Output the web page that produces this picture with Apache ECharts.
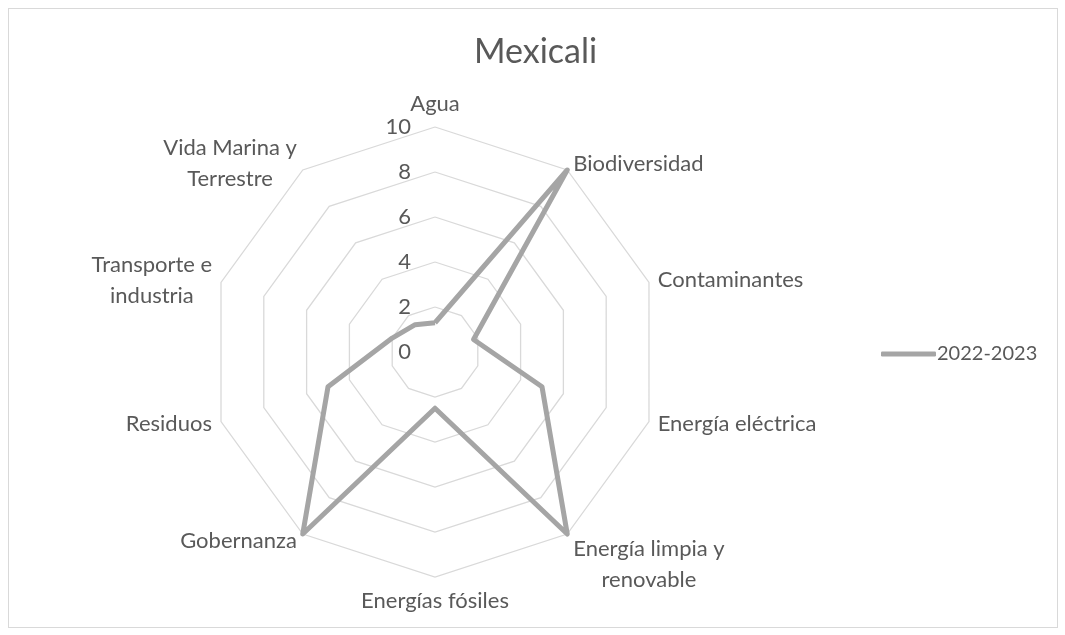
<!DOCTYPE html>
<html>
<head>
<meta charset="utf-8">
<script src="https://cdn.jsdelivr.net/npm/echarts@6/dist/echarts.min.js"></script>
<style>
  html, body { margin: 0; padding: 0; background: #fff; }
  #frame { position: absolute; left: 8px; top: 8px; width: 1048px; height: 618px; border: 1px solid #d9d9d9; }
  #main { width: 1065px; height: 635px; }
</style>
</head>
<body>
<div id="frame"></div>
<div id="main"></div>
<script>
var categories = [
  'Agua', 'Biodiversidad', 'Contaminantes', 'Energía eléctrica',
  'Energía limpia y\nrenovable', 'Energías fósiles', 'Gobernanza',
  'Residuos', 'Transporte e\nindustria', 'Vida Marina y\nTerrestre'
];
var values2022 = [1.3, 10, 1.8, 5, 10, 2.5, 10, 5, 2, 1.5];
var seriesName = '2022-2023';
var axisMax = 10;
var axisStep = 2;

// vertical nudge of each category label (px, + = down), like Excel's placement
var labelShift = [0, 0, 0, 0, 24, 0, 0, 0, 0, 0];

var textColor = '#595959';
var fontFamily = 'Lato, "Open Sans", sans-serif';
var nameSize = 22;
var lineH = 31;

// excel draws clockwise, echarts radar goes counter-clockwise
function clockwise(arr) {
  return [arr[0]].concat(arr.slice(1).reverse());
}

var ctx = document.createElement('canvas').getContext('2d');
ctx.font = nameSize + 'px ' + fontFamily;

var rich = {};
var names = categories.map(function (c, i) {
  var lines = c.split('\n');
  var w = Math.max.apply(null, lines.map(function (l) { return ctx.measureText(l).width; }));
  rich['t' + i] = { width: Math.ceil(w) + 2, align: 'center', lineHeight: lineH, fontSize: nameSize, color: textColor, fontFamily: fontFamily };
  var s = labelShift[i];
  rich['s' + i] = { lineHeight: Math.abs(s) * 2, fontSize: 1 };
  var body = lines.map(function (l) { return '{t' + i + '|' + l + '}'; }).join('\n');
  if (s > 0) body = '{s' + i + '| }\n' + body;
  if (s < 0) body = body + '\n{s' + i + '| }';
  return body;
});

var chart = echarts.init(document.getElementById('main'));

var option = {
  animation: false,
  title: {
    text: 'Mexicali',
    left: 469,
    top: 30,
    textStyle: { color: textColor, fontSize: 34, fontWeight: 'normal', fontFamily: fontFamily }
  },
  legend: {
    data: [seriesName],
    left: 876,
    top: 339,
    itemWidth: 55,
    itemHeight: 5,
    itemGap: 4,
    textStyle: { color: textColor, fontSize: 20, fontFamily: fontFamily, padding: [0, 0, 0, -4] }
  },
  radar: {
    center: [435, 352],
    radius: 225,
    startAngle: 90,
    shape: 'polygon',
    splitNumber: axisMax / axisStep,
    indicator: clockwise(names).map(function (n) { return { name: n, min: 0, max: axisMax }; }),
    axisName: { color: textColor, fontSize: nameSize, fontFamily: fontFamily, rich: rich },
    nameGap: 8,
    axisLine: { show: false },
    axisTick: { show: false },
    axisLabel: { show: false },
    splitArea: { show: false },
    splitLine: { lineStyle: { color: '#d9d9d9', width: 1.3 } }
  },
  polar: {
    center: [435, 352],
    radius: 225
  },
  angleAxis: {
    startAngle: 90,
    show: false,
    min: 0,
    max: 360
  },
  radiusAxis: {
    min: 0,
    max: axisMax,
    interval: axisStep,
    axisLine: { show: false },
    axisTick: { show: false },
    splitLine: { show: false },
    axisLabel: { color: textColor, fontSize: 22, fontFamily: fontFamily, margin: 24 }
  },
  series: [{
    name: seriesName,
    type: 'radar',
    symbol: 'none',
    lineStyle: { color: '#a5a5a5', width: 5, join: 'round' },
    itemStyle: { color: '#a5a5a5' },
    data: [{ value: clockwise(values2022), name: seriesName }]
  }]
};

chart.setOption(option);
</script>
</body>
</html>
